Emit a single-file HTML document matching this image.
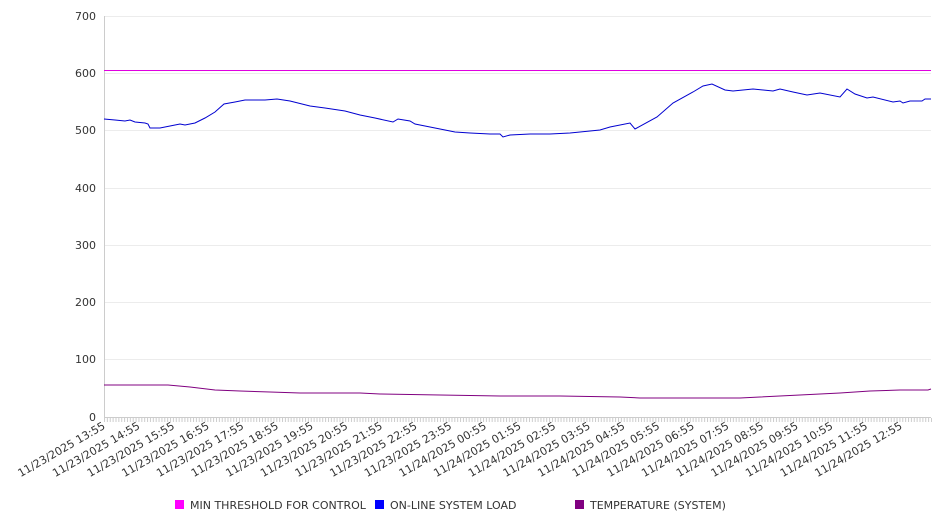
<!DOCTYPE html>
<html><head><meta charset="utf-8"><style>
body{margin:0;background:#fff;}
svg{display:block;font-family:"DejaVu Sans","Liberation Sans",sans-serif;}
</style></head><body>
<svg width="946" height="526" viewBox="0 0 946 526">
<defs><pattern id="tp" patternUnits="userSpaceOnUse" x="104" y="418" width="2.8715" height="4"><rect x="0" y="0" width="1" height="4" fill="#ccc"/></pattern></defs>
<g stroke="#ececec" stroke-width="1">
<line x1="104" y1="16.5" x2="931" y2="16.5"/>
<line x1="104" y1="73.5" x2="931" y2="73.5"/>
<line x1="104" y1="130.5" x2="931" y2="130.5"/>
<line x1="104" y1="188.5" x2="931" y2="188.5"/>
<line x1="104" y1="245.5" x2="931" y2="245.5"/>
<line x1="104" y1="302.5" x2="931" y2="302.5"/>
<line x1="104" y1="359.5" x2="931" y2="359.5"/>
</g>
<line x1="104.5" y1="16" x2="104.5" y2="417" stroke="#ccc"/>
<line x1="104" y1="417.5" x2="931" y2="417.5" stroke="#ccc"/>
<rect x="104" y="418" width="828" height="4" fill="url(#tp)"/>
<g fill="#333" font-size="11" text-anchor="end">
<text x="96" y="20">700</text><text x="96" y="77">600</text><text x="96" y="134">500</text>
<text x="96" y="192">400</text><text x="96" y="249">300</text><text x="96" y="306">200</text>
<text x="96" y="363">100</text><text x="96" y="421">0</text>
</g>
<g fill="#333" font-size="11" text-anchor="end">
<text transform="translate(106,428) rotate(-30)">11/23/2025 13:55</text>
<text transform="translate(140.65,428) rotate(-30)">11/23/2025 14:55</text>
<text transform="translate(175.3,428) rotate(-30)">11/23/2025 15:55</text>
<text transform="translate(209.95,428) rotate(-30)">11/23/2025 16:55</text>
<text transform="translate(244.6,428) rotate(-30)">11/23/2025 17:55</text>
<text transform="translate(279.25,428) rotate(-30)">11/23/2025 18:55</text>
<text transform="translate(313.9,428) rotate(-30)">11/23/2025 19:55</text>
<text transform="translate(348.55,428) rotate(-30)">11/23/2025 20:55</text>
<text transform="translate(383.2,428) rotate(-30)">11/23/2025 21:55</text>
<text transform="translate(417.85,428) rotate(-30)">11/23/2025 22:55</text>
<text transform="translate(452.5,428) rotate(-30)">11/23/2025 23:55</text>
<text transform="translate(487.15,428) rotate(-30)">11/24/2025 00:55</text>
<text transform="translate(521.8,428) rotate(-30)">11/24/2025 01:55</text>
<text transform="translate(556.45,428) rotate(-30)">11/24/2025 02:55</text>
<text transform="translate(591.1,428) rotate(-30)">11/24/2025 03:55</text>
<text transform="translate(625.75,428) rotate(-30)">11/24/2025 04:55</text>
<text transform="translate(660.4,428) rotate(-30)">11/24/2025 05:55</text>
<text transform="translate(695.05,428) rotate(-30)">11/24/2025 06:55</text>
<text transform="translate(729.7,428) rotate(-30)">11/24/2025 07:55</text>
<text transform="translate(764.35,428) rotate(-30)">11/24/2025 08:55</text>
<text transform="translate(799,428) rotate(-30)">11/24/2025 09:55</text>
<text transform="translate(833.65,428) rotate(-30)">11/24/2025 10:55</text>
<text transform="translate(868.3,428) rotate(-30)">11/24/2025 11:55</text>
<text transform="translate(902.95,428) rotate(-30)">11/24/2025 12:55</text>
</g>
<line x1="104" y1="70.5" x2="931" y2="70.5" stroke="#e000e0" stroke-width="1"/>
<polyline fill="none" stroke="#0000d0" stroke-width="1" points="104,119 115,120 125,121 130,120 135,122 145,123 148,124 150,128 160,128 170,126 180,124 185,125 195,123 205,118 215,112 224,104 235,102 245,100 265,100 277,99 290,101 310,106 325,108 345,111 360,115 375,118 393,122 398,119 410,121 415,124 435,128 455,132 470,133 490,134 500,134 503,137 510,135 530,134 550,134 570,133 590,131 600,130 610,127 630,123 635,129 657,117 673,103 693,92 703,86 712,84 725,90 733,91 753,89 773,91 780,89 793,92 807,95 820,93 840,97 847,89 855,94 867,98 873,97 893,102 900,101 903,103 910,101 922,101 925,99 931,99"/>
<polyline fill="none" stroke="#800080" stroke-width="1" points="104,385 168,385 190,387 215,390 240,391 270,392 300,393 360,393 380,394 440,395 500,396 560,396 620,397 640,398 700,398 740,398 760,397 800,395 840,393 870,391 900,390 928,390 931,389"/>
<g font-size="11" fill="#333">
<rect x="175" y="500" width="9" height="9" fill="#ff00ff"/><text x="190" y="509">MIN THRESHOLD FOR CONTROL</text>
<rect x="375" y="500" width="9" height="9" fill="#0000ff"/><text x="390" y="509">ON-LINE SYSTEM LOAD</text>
<rect x="575" y="500" width="9" height="9" fill="#800080"/><text x="590" y="509">TEMPERATURE (SYSTEM)</text>
</g>
</svg>
</body></html>
